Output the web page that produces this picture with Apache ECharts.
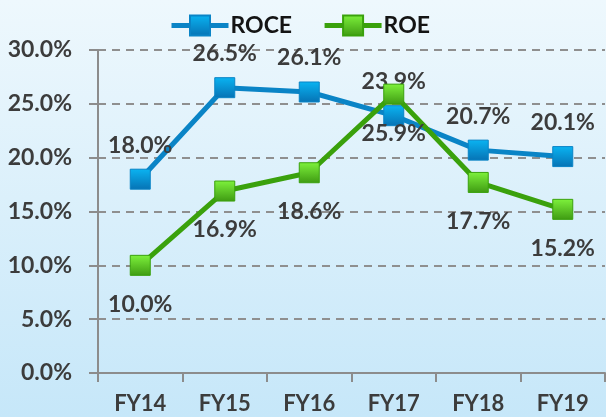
<!DOCTYPE html>
<html>
<head>
<meta charset="utf-8">
<script src="https://cdn.jsdelivr.net/npm/echarts@6/dist/echarts.min.js"></script>
<style>
  html, body { margin: 0; padding: 0; }
  #chart { width: 606px; height: 417px; }
</style>
</head>
<body>
<div id="chart"></div>
<script>
const categories = ['FY14', 'FY15', 'FY16', 'FY17', 'FY18', 'FY19'];
const roce = [18.0, 26.5, 26.1, 23.9, 20.7, 20.1];
const roe = [10.0, 16.9, 18.6, 25.9, 17.7, 15.2];

const chart = echarts.init(document.getElementById('chart'), null, { renderer: 'canvas' });

function grad(top, bottom) {
    return new echarts.graphic.LinearGradient(0, 0, 0, 1, [
        { offset: 0, color: top },
        { offset: 1, color: bottom }
    ]);
}

const labelFont = {
    fontFamily: 'Lato',
    fontWeight: 'bold',
    fontSize: 23,
    color: '#3C3C3C'
};

const option = {
    backgroundColor: {
        type: 'linear', x: 0, y: 0, x2: 0, y2: 1,
        colorStops: [
            { offset: 0, color: '#EEF8FD' },
            { offset: 1, color: '#C6E7F9' }
        ]
    },
    animation: false,
    legend: {
        top: 9,
        left: 164,
        itemWidth: 57,
        itemHeight: 25,
        itemGap: 30,
        lineStyle: { width: 5 },
        textStyle: {
            fontFamily: 'Lato',
            fontWeight: 'bold',
            fontSize: 23,
            color: '#141414',
            padding: [0, 0, 0, -3]
        },
        data: ['ROCE', 'ROE']
    },
    grid: {
        left: 98,
        right: 1,
        top: 50,
        bottom: 44,
        outerBoundsMode: 'none'
    },
    xAxis: {
        type: 'category',
        data: categories,
        boundaryGap: true,
        axisLine: { lineStyle: { color: '#8C8C8C', width: 2 } },
        axisTick: { show: true, length: 9, alignWithLabel: false, lineStyle: { color: '#8C8C8C', width: 2 } },
        axisLabel: Object.assign({}, labelFont, { margin: 20, fontSize: 22 })
    },
    yAxis: {
        type: 'value',
        min: 0,
        max: 30,
        interval: 5,
        axisLine: { show: true, lineStyle: { color: '#8C8C8C', width: 2 } },
        axisTick: { show: true, length: 9, lineStyle: { color: '#8C8C8C', width: 2 } },
        splitLine: { show: true, lineStyle: { color: '#8F8F8F', width: 2, type: [8, 6] } },
        axisLabel: Object.assign({}, labelFont, {
            margin: 26,
            formatter: v => v.toFixed(1) + '%'
        })
    },
    series: [
        {
            name: 'ROCE',
            type: 'line',
            data: roce,
            symbol: 'rect',
            symbolSize: 20,
            lineStyle: { color: '#0A84C6', width: 5 },
            itemStyle: {
                color: grad('#0AB4F2', '#0672B4'),
                borderColor: '#0A84C6',
                borderWidth: 1
            },
            label: Object.assign({
                show: true,
                position: 'top',
                distance: 12,
                formatter: p => p.value.toFixed(1) + '%'
            }, labelFont),
            z: 2
        },
        {
            name: 'ROE',
            type: 'line',
            data: roe,
            symbol: 'rect',
            symbolSize: 20,
            lineStyle: { color: '#3AA10C', width: 5 },
            itemStyle: {
                color: grad('#7EF23C', '#3E9A12'),
                borderColor: '#3AA10C',
                borderWidth: 1
            },
            label: Object.assign({
                show: true,
                position: 'bottom',
                distance: 17,
                formatter: p => p.value.toFixed(1) + '%'
            }, labelFont),
            z: 3
        }
    ]
};

chart.setOption(option);
window.addEventListener('resize', chart.resize);
</script>
</body>
</html>
